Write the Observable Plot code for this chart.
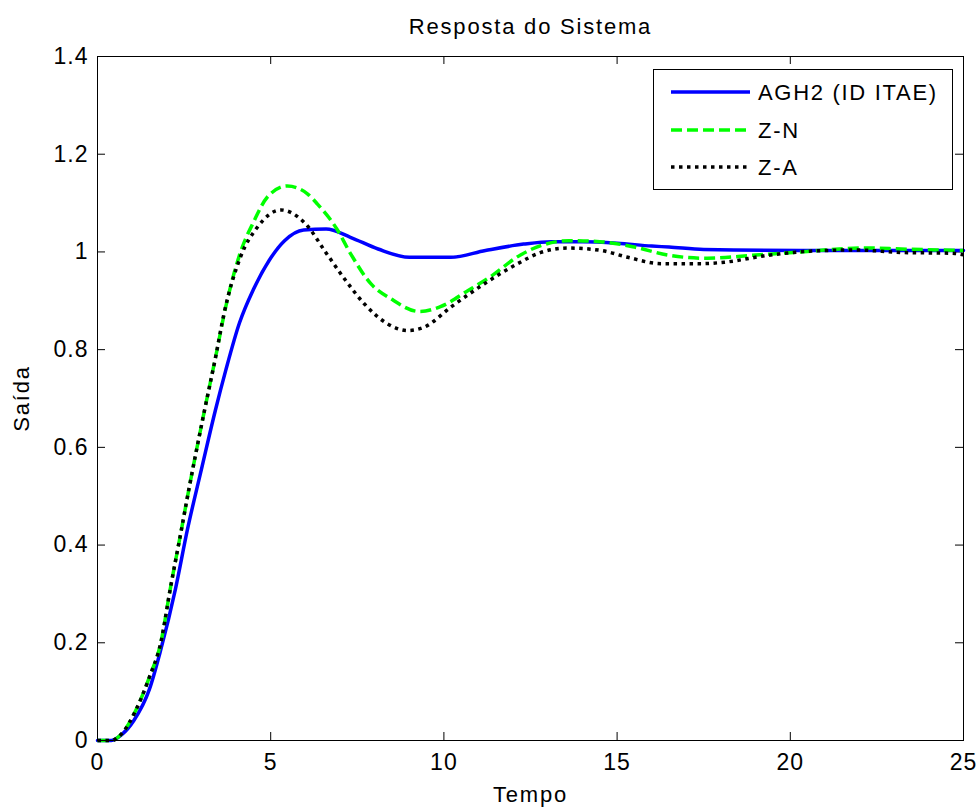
<!DOCTYPE html>
<html>
<head>
<meta charset="utf-8">
<script src="https://cdn.jsdelivr.net/npm/d3@7"></script>
<script src="https://cdn.jsdelivr.net/npm/@observablehq/plot@0.6"></script>
<style>
  html, body { margin: 0; padding: 0; background: white; overflow: hidden; }
  #wrap { position: relative; width: 980px; height: 809px; }
  #legend { position: absolute; left: 653px; top: 69px; width: 298px; height: 119px;
    border: 1px solid #000; background: #fff; box-sizing: content-box; }
  #legend svg { display: block; }
</style>
</head>
<body>
<div id="wrap"><div id="chart"></div><div id="legend"></div></div>
<script>
// ---- data ----
const xTicks = [0, 5, 10, 15, 20, 25];
const yTicks = [0, 0.2, 0.4, 0.6, 0.8, 1, 1.2, 1.4];
const seriesNames = ["AGH2 (ID ITAE)", "Z-N", "Z-A"];

const tAGH = [0, 0.4, 0.7, 1.05, 1.5, 1.82, 2.25, 2.6, 3.0, 3.4, 3.7, 4.1, 4.5, 4.95, 5.4, 5.95, 6.6, 7.3, 8.1, 9.0, 10.2, 11.2, 12.3, 13.1, 14.0, 15.0, 16.0, 16.5, 17.5, 20.3, 25];
const yAGH = [0, 0, 0.012, 0.041, 0.105, 0.184, 0.31, 0.433, 0.555, 0.675, 0.757, 0.855, 0.923, 0.982, 1.023, 1.045, 1.047, 1.030, 1.006, 0.989, 0.989, 1.003, 1.016, 1.021, 1.021, 1.018, 1.012, 1.010, 1.005, 1.003, 1.003];

const tZN = [0, 0.4, 0.7, 1.1, 1.5, 1.82, 2.11, 2.4, 2.64, 3.07, 3.41, 3.7, 4.13, 4.51, 4.9, 5.48, 6.06, 6.35, 6.9, 7.31, 7.89, 8.47, 9.3, 9.9, 10.7, 11.4, 12.1, 12.8, 13.6, 14.5, 15.5, 16.5, 17.6, 18.9, 20.1, 22.2, 23.2, 25];
const yZN = [0, 0, 0.014, 0.061, 0.13, 0.198, 0.314, 0.423, 0.515, 0.669, 0.785, 0.887, 1.0, 1.062, 1.112, 1.135, 1.119, 1.098, 1.048, 0.996, 0.935, 0.904, 0.878, 0.888, 0.921, 0.952, 0.989, 1.013, 1.023, 1.021, 1.010, 0.993, 0.987, 0.993, 0.999, 1.008, 1.006, 1.003];

const tZA = [0, 0.4, 0.7, 1.1, 1.5, 1.82, 2.11, 2.4, 2.64, 3.07, 3.41, 3.65, 4.13, 4.62, 5.29, 6.0, 6.6, 7.15, 7.7, 8.37, 8.95, 9.43, 10.2, 11.17, 12.13, 12.8, 13.57, 14.54, 15.31, 16.27, 17.43, 18.1, 19.35, 20.7, 21.86, 23.2, 24.75, 25];
const yZA = [0, 0, 0.014, 0.061, 0.13, 0.198, 0.314, 0.423, 0.515, 0.669, 0.785, 0.873, 0.99, 1.051, 1.086, 1.058, 0.998, 0.943, 0.894, 0.853, 0.839, 0.846, 0.887, 0.935, 0.976, 0.999, 1.008, 1.003, 0.989, 0.976, 0.976, 0.979, 0.993, 1.002, 1.004, 0.999, 0.997, 0.994];

// ---- build tables ----
const agh = tAGH.map((t, i) => ({t, y: yAGH[i]}));
const zn = tZN.map((t, i) => ({t, y: yZN[i]}));
const za = tZA.map((t, i) => ({t, y: yZA[i]}));

const W = 980, H = 809, mL = 97, mR = 17, mT = 56, mB = 69;
const plotW = W - mL - mR, plotH = H - mT - mB;
const TICK = 8;
const FONT = "'Liberation Sans', Arial, Helvetica, sans-serif";

const styles = [
  {stroke: "#0000ff", strokeWidth: 3.5, strokeDasharray: null, strokeLinecap: "round"},
  {stroke: "#00ff00", strokeWidth: 3.5, strokeDasharray: "11,5", strokeLinecap: "butt"},
  {stroke: "#000000", strokeWidth: 3.5, strokeDasharray: "3.5,4.5", strokeLinecap: "butt"}
];

const chart = Plot.plot({
  width: W, height: H,
  marginLeft: mL, marginRight: mR, marginTop: mT, marginBottom: mB,
  style: {fontFamily: FONT, fontSize: "23px", background: "white", color: "black", letterSpacing: "1px"},
  x: {domain: [0, 25], label: null},
  y: {domain: [0, 1.4], label: null},
  marks: [
    Plot.axisX({ticks: xTicks, tickSize: 0, tickPadding: 13, label: null, tickFormat: d => String(d), fontSize: 23}),
    Plot.axisY({ticks: yTicks, tickSize: 0, tickPadding: 9, label: null, tickFormat: d => String(d), fontSize: 23}),
    Plot.tickX(xTicks, {x: d => d, insetTop: plotH - TICK, stroke: "#000"}),
    Plot.tickX(xTicks, {x: d => d, insetBottom: plotH - TICK, stroke: "#000"}),
    Plot.tickY(yTicks, {y: d => d, insetRight: plotW - TICK, stroke: "#000"}),
    Plot.tickY(yTicks, {y: d => d, insetLeft: plotW - TICK, stroke: "#000"}),
    Plot.line(agh, {x: "t", y: "y", curve: "monotone-x", ...styles[0], strokeLinejoin: "round"}),
    Plot.line(zn, {x: "t", y: "y", curve: "monotone-x", ...styles[1]}),
    Plot.line(za, {x: "t", y: "y", curve: "monotone-x", ...styles[2]}),
    Plot.frame({stroke: "#000", strokeWidth: 1}),
    Plot.text(["Resposta do Sistema"], {frameAnchor: "top", dy: -30, fontSize: 22, lineAnchor: "middle", textAnchor: "middle", fill: "#000"}),
    Plot.text(["Tempo"], {frameAnchor: "bottom", dy: 54, fontSize: 22, lineAnchor: "middle", textAnchor: "middle", fill: "#000"}),
    Plot.text(["Saída"], {frameAnchor: "left", dx: -76, rotate: -90, fontSize: 22, lineAnchor: "middle", textAnchor: "middle", fill: "#000"})
  ]
});
document.getElementById("chart").appendChild(chart);

// wider letter spacing on the title / axis labels (as in the reference)
d3.select(chart).selectAll("text").each(function() {
  const s = this.textContent;
  if (s === "Resposta do Sistema" || s === "Tempo" || s === "Saída") {
    d3.select(this).attr("letter-spacing", "1.8px");
  }
});

// ---- legend ----
const lg = d3.select("#legend").append("svg").attr("width", 298).attr("height", 119);
const rowY = [22, 60, 97];
seriesNames.forEach((name, i) => {
  const s = styles[i];
  lg.append("line")
    .attr("x1", 17).attr("x2", 96).attr("y1", rowY[i]).attr("y2", rowY[i])
    .attr("stroke", s.stroke).attr("stroke-width", s.strokeWidth)
    .attr("stroke-dasharray", s.strokeDasharray)
    .attr("stroke-linecap", "butt");
  lg.append("text")
    .attr("x", 104).attr("y", rowY[i]).attr("dy", "0.35em")
    .attr("font-family", FONT).attr("font-size", 22).attr("letter-spacing", "1.7px")
    .attr("fill", "#000")
    .text(name);
});
</script>
</body>
</html>
